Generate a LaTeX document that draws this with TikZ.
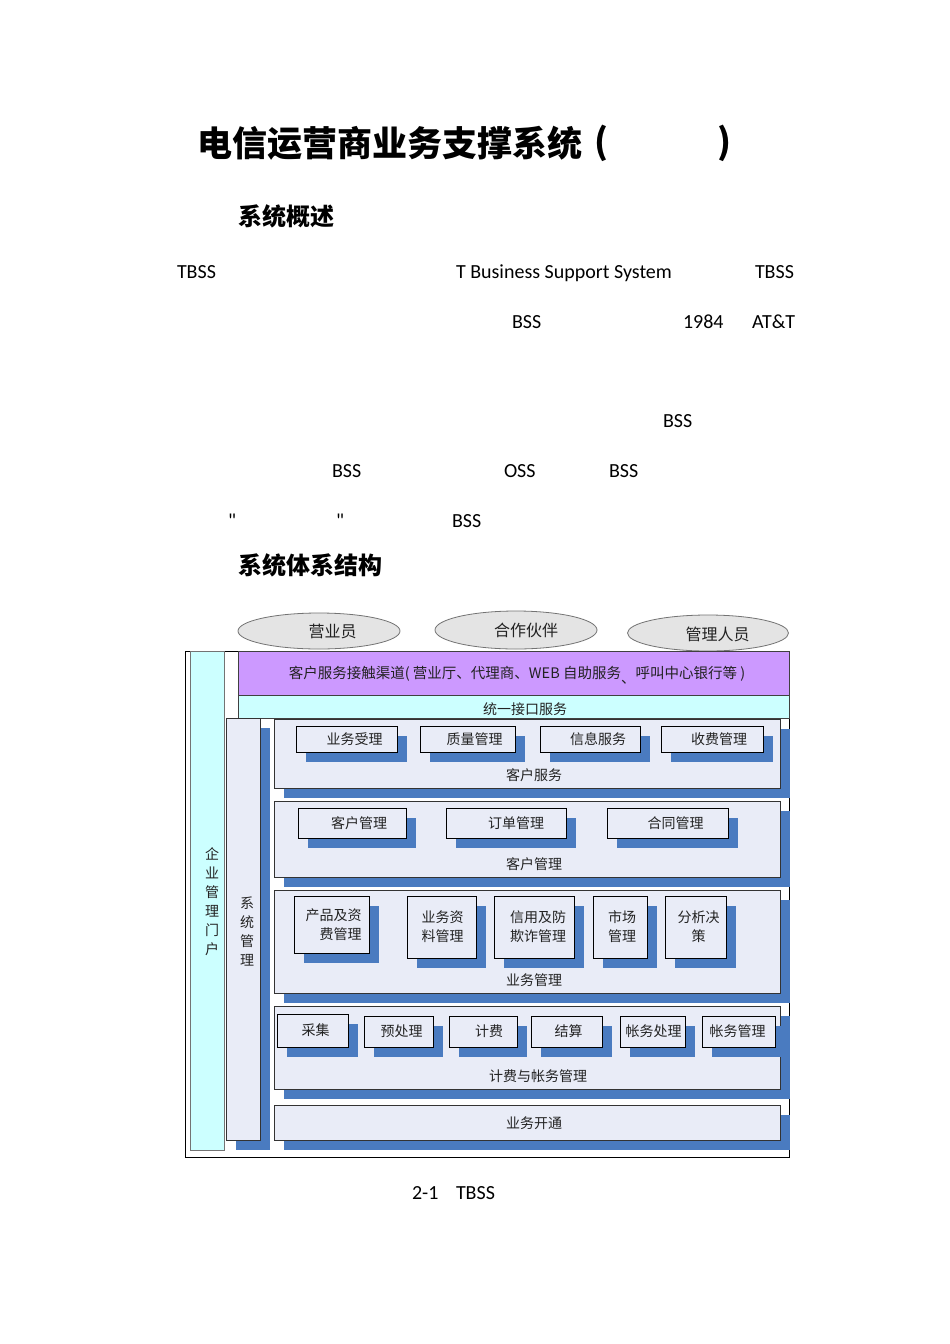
\documentclass[tikz,border=0pt]{standalone}
\usepackage{fontspec}
\setmainfont{Carlito}
\newfontfamily\rawfont{Carlito}
\newfontfamily\cjk{Noto Sans CJK SC}
\usetikzlibrary{shadows,shapes.geometric}
\definecolor{sblue}{HTML}{4A7BC0}
\definecolor{pfill}{HTML}{E9ECF7}
\definecolor{purp}{HTML}{CC99FF}
\definecolor{cyanc}{HTML}{CCFFFF}
\definecolor{ellf}{HTML}{E4E4E4}
\definecolor{txt}{HTML}{222222}
\tikzset{
  every node/.style={inner sep=0pt, outer sep=0pt},
  body/.style={anchor=base west, font=\fontsize{20}{24}\selectfont},
  head/.style={anchor=west, font=\cjk\bfseries\fontsize{24}{28}\selectfont},
  sh/.style={drop shadow={opacity=1, fill=sblue, shadow xshift=10pt, shadow yshift=-10pt}},
  panel/.style={draw=black!80, line width=0.9pt, fill=pfill, anchor=north west},
  subbox/.style={draw=black, line width=1pt, fill=pfill, anchor=north west, sh},
  lbl/.style={font=\cjk\fontsize{14}{19}\selectfont, text=txt, align=center},
  ell/.style={ellipse, draw=black!55, fill=ellf, line width=0.8pt},
}
\begin{document}
\begin{tikzpicture}[x=1pt,y=-1pt]
\useasboundingbox[fill=white] (0,0) rectangle (950,1344);

% ---------- headings and body text ----------
\node[anchor=west, font=\cjk\bfseries\fontsize{35}{40}\selectfont] (title) at (197,143) {电信运营商业务支撑系统};
\node[anchor=west, font=\cjk\bfseries\fontsize{35}{40}\selectfont] (lp) at (594,143) {(};
\node[anchor=west, font=\cjk\bfseries\fontsize{35}{40}\selectfont] (rp) at (717,143) {)};
\node[head] (h1) at (238,216) {系统概述};
\node[head] (h2) at (238,565) {系统体系结构};

\node[body] (t1) at (177,278.5) {TBSS};
\node[body] (t2) at (456,278.5) {T Business Support System};
\node[body] (t3) at (755,278.5) {TBSS};
\node[body] (t4) at (512,328.5) {BSS};
\node[body] (t5) at (683,328.5) {1984};
\node[body] (t6) at (752,328.5) {AT\&T};
\node[body] (t7) at (663,427.5) {BSS};
\node[body] (t8) at (332,477.5) {BSS};
\node[body] (t9) at (504,477.5) {OSS};
\node[body] (t10) at (609,477.5) {BSS};
\node[body, font=\rawfont\fontsize{20}{24}\selectfont] (t11) at (228,527.5) {"};
\node[body, font=\rawfont\fontsize{20}{24}\selectfont] (t12) at (336,527.5) {"};
\node[body] (t13) at (452,527.5) {BSS};
\node[body] (cap1) at (412,1199.5) {2-1};
\node[body] (cap2) at (456,1199.5) {TBSS};

% ---------- actors ----------
\node[ell, minimum width=162pt, minimum height=36pt] (e1) at (319,631) {};
\node[ell, minimum width=162pt, minimum height=38pt] (e2) at (516,630) {};
\node[ell, minimum width=161pt, minimum height=36pt] (e3) at (708,633) {};
\node[lbl, font=\cjk\fontsize{16}{19}\selectfont] (e1t) at (332.5,631) {营业员};
\node[lbl, font=\cjk\fontsize{16}{19}\selectfont] (e2t) at (526,630) {合作伙伴};
\node[lbl, font=\cjk\fontsize{16}{19}\selectfont] (e3t) at (717.5,634) {管理人员};

% ---------- frame and bars ----------
\node[draw=black, line width=0.8pt, fill=white, anchor=north west, minimum width=604pt, minimum height=506pt] (frame) at (185,651) {};
\node[draw=black!55, line width=0.9pt, fill=cyanc, anchor=north west, minimum width=34pt, minimum height=499pt] (portal) at (190,651) {};
\node[lbl] (portalt) at (212,901.5) {\baselineskip=17.4pt 企\\业\\管\\理\\门\\户};
\node[draw=black!75, line width=0.9pt, fill=purp, anchor=north west, minimum width=551pt, minimum height=44pt] (chan) at (238,651) {};
\node[lbl, font=\cjk\fontsize{14.5}{17}\selectfont] (chant) at (517,675) {客户服务接触渠道( 营业厅、代理商、WEB 自助服务\raisebox{-5pt}{、}呼叫中心银行等 )};
\node[draw=black!75, line width=0.9pt, fill=cyanc, anchor=north west, minimum width=551pt, minimum height=23pt] (uni) at (238,695) {};
\node[lbl] (unit) at (525,709) {统一接口服务};

\node[panel, sh, minimum width=34pt, minimum height=422pt] (sys) at (226,718) {};
\node[lbl] (syst) at (247,931) {\baselineskip=17.7pt 系\\统\\管\\理};

% ---------- panel 1: customer service ----------
\node[panel, sh, minimum width=506pt, minimum height=69pt] (p1) at (274,719) {};
\node[lbl] (p1t) at (534,775) {客户服务};
\node[subbox, minimum width=101pt, minimum height=26pt] (b11) at (296,726) {};
\node[subbox, minimum width=95pt, minimum height=26pt] (b12) at (420,726) {};
\node[subbox, minimum width=100pt, minimum height=26pt] (b13) at (540,726) {};
\node[subbox, minimum width=102pt, minimum height=26pt] (b14) at (661,726) {};
\node[lbl] at ([xshift=8pt]b11.center) {业务受理};
\node[lbl] at ([xshift=7pt]b12.center) {质量管理};
\node[lbl] at ([xshift=8pt]b13.center) {信息服务};
\node[lbl] at ([xshift=7pt]b14.center) {收费管理};

% ---------- panel 2: customer management ----------
\node[panel, sh, minimum width=506pt, minimum height=76pt] (p2) at (274,801) {};
\node[lbl] (p2t) at (534,864) {客户管理};
\node[subbox, minimum width=108pt, minimum height=30pt] (b21) at (298,808) {};
\node[subbox, minimum width=120pt, minimum height=30pt] (b22) at (446,808) {};
\node[subbox, minimum width=121pt, minimum height=30pt] (b23) at (607,808) {};
\node[lbl] at ([xshift=7pt]b21.center) {客户管理};
\node[lbl] at ([xshift=10pt]b22.center) {订单管理};
\node[lbl] at ([xshift=8pt]b23.center) {合同管理};

% ---------- panel 3: business management ----------
\node[panel, sh, minimum width=506pt, minimum height=103pt] (p3) at (274,890) {};
\node[lbl] (p3t) at (534,980) {业务管理};
\node[subbox, minimum width=75pt, minimum height=57pt] (b31) at (294,896) {};
\node[subbox, minimum width=69pt, minimum height=62pt] (b32) at (407,896) {};
\node[subbox, minimum width=80pt, minimum height=62pt] (b33) at (494,896) {};
\node[subbox, minimum width=54pt, minimum height=62pt] (b34) at (593,896) {};
\node[subbox, minimum width=61pt, minimum height=62pt] (b35) at (665,896) {};
\node[lbl, align=right] at ([xshift=2pt]b31.center) {产品及资\\费管理};
\node[lbl] at ([xshift=1pt]b32.center) {业务资\\料管理};
\node[lbl] at ([xshift=4pt]b33.center) {信用及防\\欺诈管理};
\node[lbl] at ([xshift=2pt]b34.center) {市场\\管理};
\node[lbl] at ([xshift=3pt]b35.center) {分析决\\策};

% ---------- panel 4: billing ----------
\node[panel, sh, minimum width=506pt, minimum height=83pt] (p4) at (274,1006) {};
\node[lbl] (p4t) at (538,1076) {计费与帐务管理};
\node[subbox, minimum width=71pt, minimum height=33pt] (b41) at (277,1014) {};
\node[subbox, minimum width=69pt, minimum height=31pt] (b42) at (364,1016) {};
\node[subbox, minimum width=68pt, minimum height=31pt] (b43) at (449,1016) {};
\node[subbox, minimum width=71pt, minimum height=31pt] (b44) at (531,1016) {};
\node[subbox, minimum width=65pt, minimum height=31pt] (b45) at (620,1016) {};
\node[subbox, minimum width=73pt, minimum height=31pt] (b46) at (702,1016) {};
\node[lbl] at ([xshift=3pt]b41.center) {采集};
\node[lbl] at ([xshift=3pt]b42.center) {预处理};
\node[lbl] at ([xshift=6pt]b43.center) {计费};
\node[lbl] at ([xshift=2pt]b44.center) {结算};
\node[lbl] at ([xshift=1pt]b45.center) {帐务处理};
\node[lbl] at ([xshift=-1pt]b46.center) {帐务管理};

% ---------- panel 5: provisioning ----------
\node[panel, sh, minimum width=506pt, minimum height=35pt] (p5) at (274,1105) {};
\node[lbl] (p5t) at (534,1123) {业务开通};
\end{tikzpicture}
\end{document}
